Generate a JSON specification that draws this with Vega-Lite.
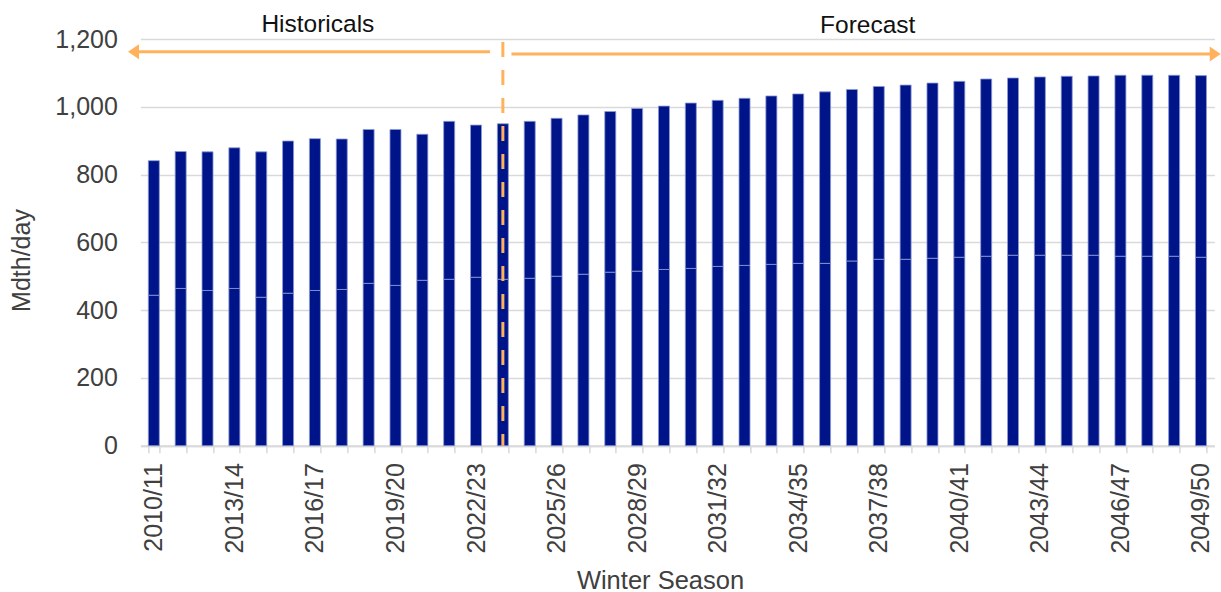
{
  "$schema": "https://vega.github.io/schema/vega-lite/v6.json",
  "width": 1074,
  "height": 406.7,
  "autosize": "none",
  "padding": {"left": 140.4, "top": 39, "right": 6.6, "bottom": 146.3},
  "background": "white",
  "config": {
    "view": {"stroke": null},
    "font": "Liberation Sans"
  },
  "layer": [
    {
      "data": {
        "values": [
          {"season": "2010/11", "segment": 1, "value": 444}, {"season": "2010/11", "segment": 2, "value": 397},
          {"season": "2011/12", "segment": 1, "value": 464}, {"season": "2011/12", "segment": 2, "value": 404},
          {"season": "2012/13", "segment": 1, "value": 458}, {"season": "2012/13", "segment": 2, "value": 409},
          {"season": "2013/14", "segment": 1, "value": 464}, {"season": "2013/14", "segment": 2, "value": 415},
          {"season": "2014/15", "segment": 1, "value": 438}, {"season": "2014/15", "segment": 2, "value": 429},
          {"season": "2015/16", "segment": 1, "value": 450}, {"season": "2015/16", "segment": 2, "value": 449},
          {"season": "2016/17", "segment": 1, "value": 458}, {"season": "2016/17", "segment": 2, "value": 448},
          {"season": "2017/18", "segment": 1, "value": 461}, {"season": "2017/18", "segment": 2, "value": 444},
          {"season": "2018/19", "segment": 1, "value": 479}, {"season": "2018/19", "segment": 2, "value": 454},
          {"season": "2019/20", "segment": 1, "value": 473}, {"season": "2019/20", "segment": 2, "value": 460},
          {"season": "2020/21", "segment": 1, "value": 488}, {"season": "2020/21", "segment": 2, "value": 431},
          {"season": "2021/22", "segment": 1, "value": 491}, {"season": "2021/22", "segment": 2, "value": 466},
          {"season": "2022/23", "segment": 1, "value": 497}, {"season": "2022/23", "segment": 2, "value": 449},
          {"season": "2023/24", "segment": 1, "value": 491}, {"season": "2023/24", "segment": 2, "value": 459},
          {"season": "2024/25", "segment": 1, "value": 494}, {"season": "2024/25", "segment": 2, "value": 463},
          {"season": "2025/26", "segment": 1, "value": 500}, {"season": "2025/26", "segment": 2, "value": 466},
          {"season": "2026/27", "segment": 1, "value": 506}, {"season": "2026/27", "segment": 2, "value": 470},
          {"season": "2027/28", "segment": 1, "value": 512}, {"season": "2027/28", "segment": 2, "value": 474},
          {"season": "2028/29", "segment": 1, "value": 515}, {"season": "2028/29", "segment": 2, "value": 480},
          {"season": "2029/30", "segment": 1, "value": 520}, {"season": "2029/30", "segment": 2, "value": 482},
          {"season": "2030/31", "segment": 1, "value": 523}, {"season": "2030/31", "segment": 2, "value": 488},
          {"season": "2031/32", "segment": 1, "value": 529}, {"season": "2031/32", "segment": 2, "value": 490},
          {"season": "2032/33", "segment": 1, "value": 532}, {"season": "2032/33", "segment": 2, "value": 493},
          {"season": "2033/34", "segment": 1, "value": 535}, {"season": "2033/34", "segment": 2, "value": 497},
          {"season": "2034/35", "segment": 1, "value": 538}, {"season": "2034/35", "segment": 2, "value": 500},
          {"season": "2035/36", "segment": 1, "value": 538}, {"season": "2035/36", "segment": 2, "value": 506},
          {"season": "2036/37", "segment": 1, "value": 545}, {"season": "2036/37", "segment": 2, "value": 506},
          {"season": "2037/38", "segment": 1, "value": 550}, {"season": "2037/38", "segment": 2, "value": 510},
          {"season": "2038/39", "segment": 1, "value": 550}, {"season": "2038/39", "segment": 2, "value": 514},
          {"season": "2039/40", "segment": 1, "value": 553}, {"season": "2039/40", "segment": 2, "value": 517},
          {"season": "2040/41", "segment": 1, "value": 556}, {"season": "2040/41", "segment": 2, "value": 519},
          {"season": "2041/42", "segment": 1, "value": 559}, {"season": "2041/42", "segment": 2, "value": 523},
          {"season": "2042/43", "segment": 1, "value": 562}, {"season": "2042/43", "segment": 2, "value": 523},
          {"season": "2043/44", "segment": 1, "value": 562}, {"season": "2043/44", "segment": 2, "value": 526},
          {"season": "2044/45", "segment": 1, "value": 562}, {"season": "2044/45", "segment": 2, "value": 528},
          {"season": "2045/46", "segment": 1, "value": 562}, {"season": "2045/46", "segment": 2, "value": 529},
          {"season": "2046/47", "segment": 1, "value": 559}, {"season": "2046/47", "segment": 2, "value": 534},
          {"season": "2047/48", "segment": 1, "value": 559}, {"season": "2047/48", "segment": 2, "value": 534},
          {"season": "2048/49", "segment": 1, "value": 559}, {"season": "2048/49", "segment": 2, "value": 534},
          {"season": "2049/50", "segment": 1, "value": 556}, {"season": "2049/50", "segment": 2, "value": 536}
        ]
      },
      "mark": {"type": "bar", "color": "#001489", "stroke": "#8d9ad6", "strokeWidth": 0.8},
      "encoding": {
        "x": {
          "field": "season",
          "type": "ordinal",
          "sort": null,
          "scale": {"paddingInner": 0.59, "paddingOuter": 0.295},
          "axis": {
            "title": "Winter Season",
            "labelAngle": -90,
            "labelAlign": "right",
            "labelBaseline": "middle",
            "labelExpr": "(toNumber(substring(datum.value, 0, 4)) - 2010) % 3 === 0 ? datum.value : ''",
            "labelOverlap": false,
            "labelFontSize": 25,
            "labelColor": "#404040",
            "labelPadding": 10,
            "tickBand": "extent",
            "tickSize": 7,
            "tickColor": "#d9d9d9",
            "tickWidth": 1.5,
            "domainColor": "#d9d9d9",
            "domainWidth": 2,
            "titleFontSize": 25.5,
            "titleFontWeight": "normal",
            "titleColor": "#404040",
            "titleX": 519.6,
            "titleY": 142.3,
            "titleBaseline": "alphabetic",
            "titleAlign": "center"
          }
        },
        "y": {
          "field": "value",
          "type": "quantitative",
          "stack": "zero",
          "scale": {"domain": [0, 1200], "nice": false},
          "axis": {
            "title": "Mdth/day",
            "values": [0, 200, 400, 600, 800, 1000, 1200],
            "format": ",.0f",
            "ticks": false,
            "domain": false,
            "gridColor": "#d9d9d9",
            "gridWidth": 1.3,
            "labelFontSize": 25,
            "labelColor": "#404040",
            "labelPadding": 23,
            "titleFontSize": 25,
            "titleFontWeight": "normal",
            "titleColor": "#404040",
            "titleAngle": -90,
            "titleX": -118.4,
            "titleY": 221,
            "titleBaseline": "middle",
            "titleAlign": "center"
          }
        },
        "order": {"field": "segment", "type": "quantitative", "sort": "ascending"}
      }
    },
    {
      "layer": [
        {
          "data": {"values": [
            {"x": -0.1, "x2": 13.02, "y": 1162.6},
            {"x": 13.82, "x2": 39.9, "y": 1155.8}
          ]},
          "mark": {"type": "rule", "color": "#ffb25b", "strokeWidth": 3},
          "encoding": {
            "x": {"field": "x", "type": "quantitative", "scale": {"domain": [0, 40], "nice": false, "zero": false}, "axis": null},
            "x2": {"field": "x2"},
            "y": {"field": "y", "type": "quantitative", "scale": {"domain": [0, 1200], "nice": false}, "axis": null}
          }
        },
        {
          "data": {"values": [
            {"x": -0.257, "y": 1162.6, "dir": "left"},
            {"x": 40.03, "y": 1155.8, "dir": "right"}
          ]},
          "mark": {"type": "point", "filled": true, "color": "#ffb25b", "opacity": 1, "size": 225, "strokeWidth": 0},
          "encoding": {
            "x": {"field": "x", "type": "quantitative", "scale": {"domain": [0, 40], "nice": false, "zero": false}, "axis": null},
            "y": {"field": "y", "type": "quantitative", "scale": {"domain": [0, 1200], "nice": false}, "axis": null},
            "shape": {
              "field": "dir",
              "type": "nominal",
              "scale": {"domain": ["left", "right"], "range": ["M-0.73,0L0.73,-1L0.73,1Z", "M0.73,0L-0.73,-1L-0.73,1Z"]},
              "legend": null
            }
          }
        },
        {
          "data": {"values": [{"x": 13.5, "y": 1191, "y2": 0}]},
          "mark": {"type": "rule", "color": "#ffb25b", "strokeWidth": 3, "strokeDash": [15, 13]},
          "encoding": {
            "x": {"field": "x", "type": "quantitative", "scale": {"domain": [0, 40], "nice": false, "zero": false}, "axis": null},
            "y": {"field": "y", "type": "quantitative", "scale": {"domain": [0, 1200], "nice": false}, "axis": null},
            "y2": {"field": "y2"}
          }
        },
        {
          "data": {"values": [
            {"x": 6.61, "y": 1220.7, "label": "Historicals"},
            {"x": 27.09, "y": 1217, "label": "Forecast"}
          ]},
          "mark": {"type": "text", "fontSize": 24.5, "color": "#111111", "align": "center", "baseline": "alphabetic"},
          "encoding": {
            "x": {"field": "x", "type": "quantitative", "scale": {"domain": [0, 40], "nice": false, "zero": false}, "axis": null},
            "y": {"field": "y", "type": "quantitative", "scale": {"domain": [0, 1200], "nice": false}, "axis": null},
            "text": {"field": "label"}
          }
        }
      ]
    }
  ],
  "resolve": {"scale": {"x": "independent", "y": "independent"}}
}
